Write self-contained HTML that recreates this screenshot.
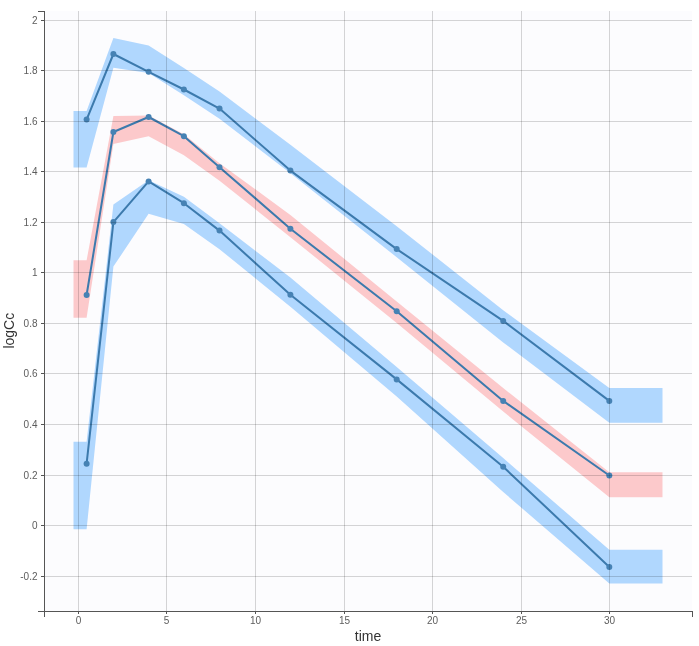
<!DOCTYPE html>
<html><head><meta charset="utf-8"><title>logCc vs time</title>
<style>
html,body{margin:0;padding:0;background:#fff;}
body{width:699px;height:646px;overflow:hidden;}
svg{display:block;font-family:"Liberation Sans",Arial,Helvetica,sans-serif;}
.tick text{font-size:10px;fill:#5c5c5c;}
.lab{font-size:14px;fill:#333;}
.grid line{stroke:#000;stroke-opacity:0.16;stroke-width:1;shape-rendering:crispEdges;}
.axis path,.axis line{fill:none;stroke:#555;stroke-width:1;shape-rendering:crispEdges;}
</style></head><body>
<svg width="699" height="646" viewBox="0 0 699 646">
<rect x="0" y="0" width="699" height="646" fill="#fff"/>
<rect x="45" y="11" width="647" height="600" fill="#fcfcfe"/>
<path d="M73.5,111.1L86.6,111.1L113.4,37.9L148.6,45.6L183.9,68.0L219.5,91.6L290.4,144.8L396.7,226.2L503.2,310.2L609.3,387.9L662.5,387.9L662.5,422.7L609.3,422.7L503.2,342.4L396.7,257.2L290.4,173.3L219.5,118.8L183.9,95.2L148.6,73.0L113.4,67.7L86.6,167.6L73.5,167.6Z" fill="#0080ff" fill-opacity="0.3"/>
<path d="M73.5,260.3L86.6,260.3L113.4,116.0L148.6,115.5L183.9,134.3L219.5,163.2L290.4,214.9L396.7,301.5L503.2,388.0L609.3,472.2L662.5,472.2L662.5,497.2L609.3,497.2L503.2,411.5L396.7,322.9L290.4,237.2L219.5,180.8L183.9,155.2L148.6,136.3L113.4,144.1L86.6,317.8L73.5,317.8Z" fill="#ff0000" fill-opacity="0.2"/>
<path d="M73.5,441.8L86.6,441.8L113.4,204.6L148.6,180.2L183.9,196.7L219.5,223.2L290.4,277.6L396.7,367.0L503.2,458.1L609.3,549.8L662.5,549.8L662.5,583.6L609.3,583.6L503.2,492.0L396.7,396.4L290.4,306.7L219.5,249.2L183.9,224.1L148.6,213.8L113.4,266.6L86.6,529.2L73.5,529.2Z" fill="#0080ff" fill-opacity="0.3"/>
<path d="M86.6,119.6L113.4,54.0L148.6,71.8L183.9,89.5L219.5,108.6L290.4,170.6L396.7,249.1L503.2,320.9L609.3,400.9" fill="none" stroke="#3c7aad" stroke-width="2" stroke-linejoin="round"/>
<g fill="#4682b4"><circle cx="86.6" cy="119.6" r="3"/><circle cx="113.4" cy="54.0" r="3"/><circle cx="148.6" cy="71.8" r="3"/><circle cx="183.9" cy="89.5" r="3"/><circle cx="219.5" cy="108.6" r="3"/><circle cx="290.4" cy="170.6" r="3"/><circle cx="396.7" cy="249.1" r="3"/><circle cx="503.2" cy="320.9" r="3"/><circle cx="609.3" cy="400.9" r="3"/></g>
<path d="M86.6,295.0L113.4,132.0L148.6,117.0L183.9,136.2L219.5,167.2L290.4,228.8L396.7,311.2L503.2,400.9L609.3,475.5" fill="none" stroke="#3c7aad" stroke-width="2" stroke-linejoin="round"/>
<g fill="#4682b4"><circle cx="86.6" cy="295.0" r="3"/><circle cx="113.4" cy="132.0" r="3"/><circle cx="148.6" cy="117.0" r="3"/><circle cx="183.9" cy="136.2" r="3"/><circle cx="219.5" cy="167.2" r="3"/><circle cx="290.4" cy="228.8" r="3"/><circle cx="396.7" cy="311.2" r="3"/><circle cx="503.2" cy="400.9" r="3"/><circle cx="609.3" cy="475.5" r="3"/></g>
<path d="M86.6,463.7L113.4,222.1L148.6,181.4L183.9,203.2L219.5,230.6L290.4,294.7L396.7,379.4L503.2,466.8L609.3,566.9" fill="none" stroke="#3c7aad" stroke-width="2" stroke-linejoin="round"/>
<g fill="#4682b4"><circle cx="86.6" cy="463.7" r="3"/><circle cx="113.4" cy="222.1" r="3"/><circle cx="148.6" cy="181.4" r="3"/><circle cx="183.9" cy="203.2" r="3"/><circle cx="219.5" cy="230.6" r="3"/><circle cx="290.4" cy="294.7" r="3"/><circle cx="396.7" cy="379.4" r="3"/><circle cx="503.2" cy="466.8" r="3"/><circle cx="609.3" cy="566.9" r="3"/></g>
<g class="grid">
<line x1="78.5" x2="78.5" y1="11" y2="611"/><line x1="166.5" x2="166.5" y1="11" y2="611"/><line x1="255.5" x2="255.5" y1="11" y2="611"/><line x1="344.5" x2="344.5" y1="11" y2="611"/><line x1="432.5" x2="432.5" y1="11" y2="611"/><line x1="521.5" x2="521.5" y1="11" y2="611"/><line x1="609.5" x2="609.5" y1="11" y2="611"/><line x1="45" x2="692" y1="20.5" y2="20.5"/><line x1="45" x2="692" y1="70.5" y2="70.5"/><line x1="45" x2="692" y1="121.5" y2="121.5"/><line x1="45" x2="692" y1="171.5" y2="171.5"/><line x1="45" x2="692" y1="222.5" y2="222.5"/><line x1="45" x2="692" y1="272.5" y2="272.5"/><line x1="45" x2="692" y1="323.5" y2="323.5"/><line x1="45" x2="692" y1="373.5" y2="373.5"/><line x1="45" x2="692" y1="424.5" y2="424.5"/><line x1="45" x2="692" y1="475.5" y2="475.5"/><line x1="45" x2="692" y1="525.5" y2="525.5"/><line x1="45" x2="692" y1="576.5" y2="576.5"/></g>
<g class="axis">
<path d="M38,11.5H44.5V611.5H38"/>
<path d="M44.5,617V611.5H692.5V617"/>
<g class="tick"><line x1="78.5" x2="78.5" y1="611" y2="614"/><text x="78.5" y="624.4" text-anchor="middle">0</text></g>
<g class="tick"><line x1="166.5" x2="166.5" y1="611" y2="614"/><text x="166.5" y="624.4" text-anchor="middle">5</text></g>
<g class="tick"><line x1="255.5" x2="255.5" y1="611" y2="614"/><text x="255.5" y="624.4" text-anchor="middle">10</text></g>
<g class="tick"><line x1="344.5" x2="344.5" y1="611" y2="614"/><text x="344.5" y="624.4" text-anchor="middle">15</text></g>
<g class="tick"><line x1="432.5" x2="432.5" y1="611" y2="614"/><text x="432.5" y="624.4" text-anchor="middle">20</text></g>
<g class="tick"><line x1="521.5" x2="521.5" y1="611" y2="614"/><text x="521.5" y="624.4" text-anchor="middle">25</text></g>
<g class="tick"><line x1="609.5" x2="609.5" y1="611" y2="614"/><text x="609.5" y="624.4" text-anchor="middle">30</text></g>
<g class="tick"><line x1="41" x2="44" y1="20.5" y2="20.5"/><text x="37.5" y="24.3" text-anchor="end">2</text></g>
<g class="tick"><line x1="41" x2="44" y1="70.5" y2="70.5"/><text x="37.5" y="74.3" text-anchor="end">1.8</text></g>
<g class="tick"><line x1="41" x2="44" y1="121.5" y2="121.5"/><text x="37.5" y="125.3" text-anchor="end">1.6</text></g>
<g class="tick"><line x1="41" x2="44" y1="171.5" y2="171.5"/><text x="37.5" y="175.3" text-anchor="end">1.4</text></g>
<g class="tick"><line x1="41" x2="44" y1="222.5" y2="222.5"/><text x="37.5" y="226.3" text-anchor="end">1.2</text></g>
<g class="tick"><line x1="41" x2="44" y1="272.5" y2="272.5"/><text x="37.5" y="276.3" text-anchor="end">1</text></g>
<g class="tick"><line x1="41" x2="44" y1="323.5" y2="323.5"/><text x="37.5" y="327.3" text-anchor="end">0.8</text></g>
<g class="tick"><line x1="41" x2="44" y1="373.5" y2="373.5"/><text x="37.5" y="377.3" text-anchor="end">0.6</text></g>
<g class="tick"><line x1="41" x2="44" y1="424.5" y2="424.5"/><text x="37.5" y="428.3" text-anchor="end">0.4</text></g>
<g class="tick"><line x1="41" x2="44" y1="475.5" y2="475.5"/><text x="37.5" y="479.3" text-anchor="end">0.2</text></g>
<g class="tick"><line x1="41" x2="44" y1="525.5" y2="525.5"/><text x="37.5" y="529.3" text-anchor="end">0</text></g>
<g class="tick"><line x1="41" x2="44" y1="576.5" y2="576.5"/><text x="37.5" y="580.3" text-anchor="end">-0.2</text></g>
</g>
<text class="lab" x="368" y="640.8" text-anchor="middle">time</text>
<text class="lab" transform="translate(14,330.7) rotate(-90)" text-anchor="middle">logCc</text>
</svg></body></html>
